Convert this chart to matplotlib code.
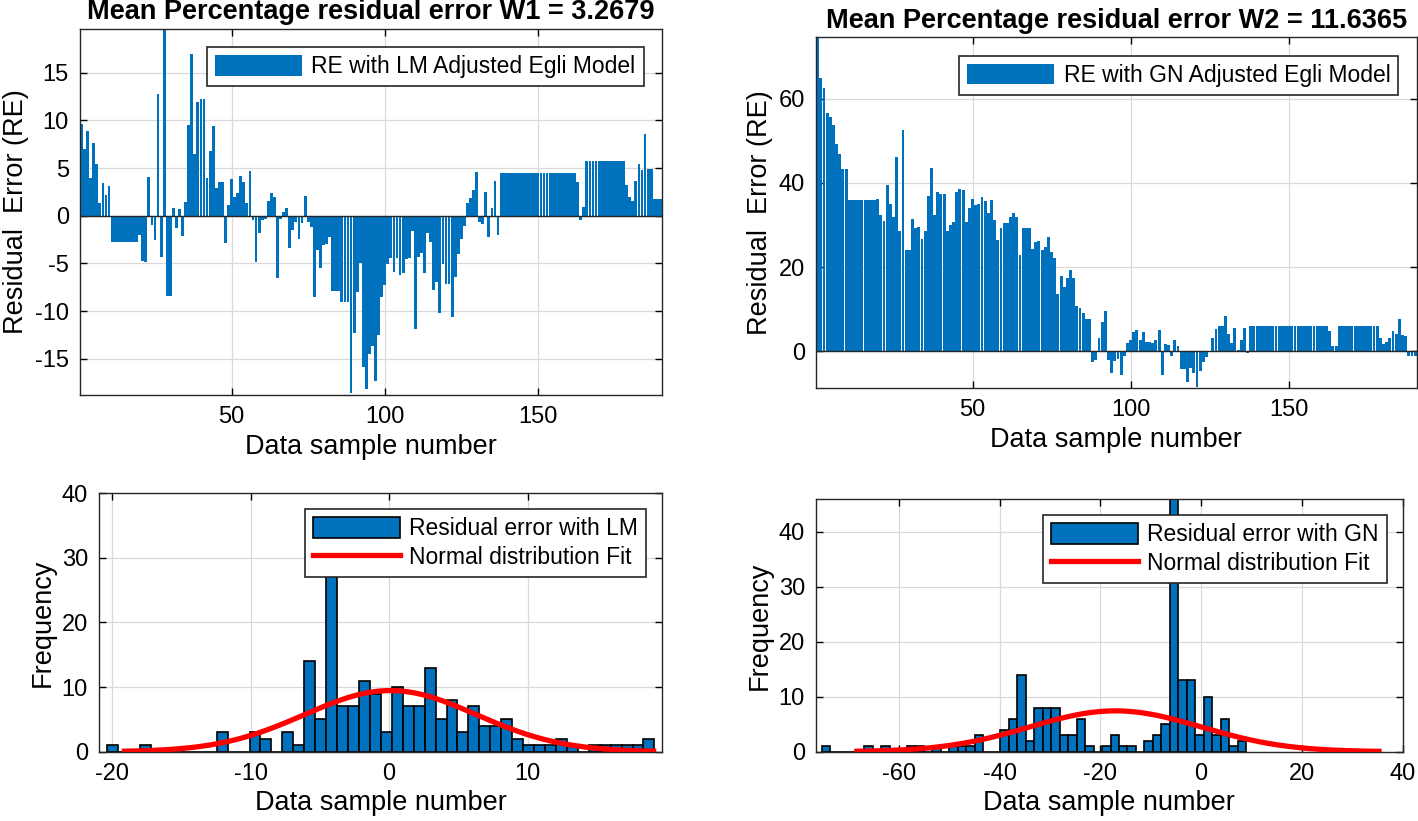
""" residual error plots for the adjusted Egli model (LM vs GN) """

import numpy as np
import matplotlib
matplotlib.use('Agg')
import matplotlib.pyplot as plt

plt.rcParams['font.family'] = ['Liberation Sans', 'DejaVu Sans']
plt.rcParams['axes.unicode_minus'] = False

# residual error per data sample, LM adjusted Egli model
re_lm = [
    9.6, 7.0, 8.9, 4.0, 7.6, 5.4, 1.3, 3.4, 2.2, 3.1,
    -2.7, -2.7, -2.7, -2.7, -2.7, -2.7, -2.7, -2.7, -2.7, -2.0,
    -4.7, -4.8, 4.1, -1.0, -2.5, 12.8, -4.3, 19.6, -8.4, -8.4,
    0.8, -1.3, 0.7, -2.1, 1.4, 9.5, 17.0, 6.5, 11.9, 12.3,
    12.3, 4.0, 6.8, 9.4, 2.9, 3.5, 3.5, -2.9, 1.1, 3.9,
    2.0, 2.4, 4.2, 3.5, 1.3, 4.7, -0.4, -4.8, -1.8, -0.4,
    -0.3, 1.5, 2.4, 2.0, -6.5, -0.3, 0.4, 0.8, -3.4, -1.5,
    -0.7, -2.4, -0.8, 2.1, -0.6, -1.2, -8.5, -3.6, -5.5, -3.1,
    -3.0, -2.2, -7.9, -7.9, -7.9, -9.0, -9.0, -9.0, -18.6, -12.3,
    -8.0, -5.0, -15.9, -18.2, -14.5, -13.7, -17.3, -12.5, -8.5, -7.3,
    -5.1, -4.4, -5.9, -4.4, -6.2, -6.0, -4.5, -4.4, -1.6, -11.9,
    -4.3, -3.9, -6.0, -1.8, -2.8, -7.8, -6.9, -10.2, -5.1, -7.2,
    -7.2, -10.6, -6.4, -4.0, -2.4, -1.1, 1.3, 1.9, 2.7, 4.6,
    -0.6, -0.9, 2.5, -2.2, 0.8, 3.7, -2.0, 4.5, 4.5, 4.5,
    4.5, 4.5, 4.5, 4.5, 4.5, 4.5, 4.5, 4.5, 4.5, 4.5,
    4.5, 4.5, 4.5, 4.5, 4.5, 4.5, 4.5, 4.5, 4.5, 4.5,
    4.5, 4.5, 3.5, -0.4, 0.9, 5.7, 5.7, 5.7, 5.7, 5.7,
    5.7, 5.7, 5.7, 5.7, 5.7, 5.7, 5.7, 5.7, 3.2, 2.0,
    1.5, 3.6, 5.4, 4.8, 8.6, 4.9, 4.9, 1.8, 1.8, 1.8,
]

# residual error per data sample, GN adjusted Egli model
re_gn = [
    74.6, 64.9, 62.5, 56.7, 55.7, 53.7, 49.2, 47.0, 43.2, 43.2,
    36.0, 36.0, 36.0, 36.0, 36.0, 36.0, 36.0, 36.0, 36.0, 36.3,
    32.5, 30.9, 39.6, 34.9, 32.0, 46.2, 28.5, 52.7, 24.1, 24.0,
    31.5, 29.3, 29.6, 26.8, 28.7, 36.8, 43.6, 32.3, 37.9, 37.4,
    37.4, 28.5, 30.1, 30.8, 37.9, 38.5, 38.3, 30.8, 34.1, 36.3,
    34.7, 34.9, 36.6, 35.8, 32.8, 36.0, 31.1, 26.5, 29.3, 30.6,
    30.6, 32.0, 32.8, 31.9, 23.0, 29.2, 29.2, 29.2, 24.3, 26.0,
    26.3, 24.0, 24.7, 27.1, 23.5, 22.2, 13.7, 17.8, 15.3, 17.5,
    19.4, 17.3, 10.8, 10.2, 9.1, 7.7, 7.7, -2.6, -2.0, 3.2,
    6.9, 9.6, -2.1, -5.1, -2.3, -1.8, -5.6, -1.0, 2.0, 2.8,
    4.7, 5.0, 2.8, 4.5, 2.3, 2.1, 2.0, 2.8, 5.1, -5.6,
    1.7, 1.5, -1.0, 2.8, 1.2, -4.2, -4.2, -7.4, -4.0, -5.1,
    -8.6, -4.8, -2.6, -1.3, -0.2, 3.1, 5.3, 5.9, 6.1, 8.3,
    4.0, 2.0, 5.5, 0.2, 2.8, 5.6, -0.4, 5.9, 5.9, 5.9,
    5.9, 5.9, 5.9, 5.9, 5.9, 5.9, 5.9, 5.9, 5.9, 5.9,
    5.9, 5.9, 5.9, 5.9, 5.9, 5.9, 5.9, 5.9, 5.9, 5.9,
    5.9, 5.9, 4.8, 1.2, 1.2, 5.9, 5.9, 5.9, 5.9, 5.9,
    5.9, 5.9, 5.9, 5.9, 5.9, 5.9, 5.9, 5.9, 3.2, 1.7,
    2.1, 3.1, 4.8, 4.2, 7.7, 3.9, 3.7, -1.0, -1.2, -1.2,
]

# histogram counts (50 bins each) and bin layout
hist_lm_counts = [
    1, 0, 0, 1, 0, 0, 0, 0, 0, 0,
    3, 0, 0, 3, 2, 0, 3, 1, 14, 5,
    28, 7, 7, 11, 9, 3, 10, 7, 7, 13,
    5, 8, 3, 7, 4, 4, 5, 2, 1, 1,
    1, 2, 1, 0, 1, 1, 1, 1, 1, 2,
]
hist_lm_start, hist_lm_width = -20.34, 0.79

hist_gn_counts = [
    1, 0, 0, 0, 0, 1, 0, 1, 0, 0,
    1, 1, 0, 1, 0, 1, 1, 1, 3, 0,
    0, 4, 6, 14, 2, 8, 8, 8, 3, 3,
    6, 1, 0, 1, 3, 1, 1, 0, 2, 3,
    5, 46, 13, 13, 3, 10, 3, 6, 1, 2,
]
hist_gn_start, hist_gn_width = -75.3, 1.686

# normal distribution fits (mean, std, plotted range)
fit_lm = (0.1, 6.2, -19.1, 19.1)
fit_gn = (-17.0, 17.0, -68.3, 35.3)

BLUE = '#0072BD'
TICK_FS = 17
LABEL_FS = 19.5
LEG_FS = 16.5
TITLE_FS = 19.5


def style_axes(ax):
    ''' MATLAB-like box, inward ticks and light grid '''
    ax.tick_params(direction='in', top=True, right=True, length=5, width=1,
                   labelsize=TICK_FS, pad=8)
    ax.grid(True, color='#d9d9d9', linewidth=0.9)
    ax.set_axisbelow(True)
    for sp in ax.spines.values():
        sp.set_color('#262626')
        sp.set_linewidth(1.0)


def make_legend(ax, handles, labels, **kw):
    leg = ax.legend(handles, labels, loc='upper right', fontsize=LEG_FS,
                    fancybox=False, framealpha=1, edgecolor='#262626',
                    handlelength=3.8, handleheight=1.0, handletextpad=0.4,
                    borderpad=0.35, labelspacing=0.25, **kw)
    leg.get_frame().set_linewidth(1.2)
    return leg


def plot_residuals(ax, values, title, label, ylim, yticks):
    idx = np.arange(1, len(values) + 1)
    bars = ax.bar(idx, values, width=0.92, color=BLUE, linewidth=0)
    ax.axhline(0, color='#262626', linewidth=1.0, zorder=3)
    ax.set_xlim(0.5, len(values) + 0.5)
    ax.set_ylim(*ylim)
    ax.set_xticks([50, 100, 150])
    ax.set_yticks(yticks)
    ax.set_title(title, fontsize=TITLE_FS, fontweight='bold', pad=7)
    ax.set_xlabel('Data sample number', fontsize=LABEL_FS)
    ax.set_ylabel('Residual  Error (RE)', fontsize=LABEL_FS)
    style_axes(ax)
    make_legend(ax, [bars], [label], borderaxespad=0.8)


def plot_histfit(ax, counts, start, width, fit, label, xlim, ylim, xticks):
    counts = np.asarray(counts)
    centers = start + width * (np.arange(len(counts)) + 0.5)
    bars = ax.bar(centers, counts, width=width, color=BLUE, edgecolor='black',
                  linewidth=1.2)
    mu, sigma, lo, hi = fit
    xs = np.linspace(lo, hi, 300)
    scale = counts.sum() * width
    pdf = np.exp(-0.5 * ((xs - mu) / sigma) ** 2) / (sigma * np.sqrt(2 * np.pi))
    line, = ax.plot(xs, scale * pdf, color='red', linewidth=3.8, zorder=4)
    ax.set_xlim(*xlim)
    ax.set_ylim(*ylim)
    ax.set_xticks(xticks)
    ax.set_yticks([0, 10, 20, 30, 40])
    ax.set_xlabel('Data sample number', fontsize=LABEL_FS)
    ax.set_ylabel('Frequency', fontsize=LABEL_FS)
    style_axes(ax)
    make_legend(ax, [bars, line], [label, 'Normal distribution Fit'],
                borderaxespad=0.7)


fig = plt.figure(figsize=(14.18, 8.21), dpi=100)

ax1 = fig.add_axes([0.0564, 0.5189, 0.4104, 0.4458])
plot_residuals(ax1, re_lm, 'Mean Percentage residual error W1 = 3.2679',
               'RE with LM Adjusted Egli Model', (-18.8, 19.6),
               [-15, -10, -5, 0, 5, 10, 15])

ax2 = fig.add_axes([0.5755, 0.527, 0.4236, 0.4275])
plot_residuals(ax2, re_gn, 'Mean Percentage residual error W2 = 11.6365',
               'RE with GN Adjusted Egli Model', (-8.8, 74.6),
               [0, 20, 40, 60])

ax3 = fig.add_axes([0.0698, 0.0844, 0.397, 0.3151])
plot_histfit(ax3, hist_lm_counts, hist_lm_start, hist_lm_width, fit_lm,
             'Residual error with LM', (-20.94, 19.7), (0, 40),
             [-20, -10, 0, 10])

ax4 = fig.add_axes([0.5755, 0.0844, 0.4137, 0.3078])
plot_histfit(ax4, hist_gn_counts, hist_gn_start, hist_gn_width, fit_gn,
             'Residual error with GN', (-76.4, 40), (0, 46),
             [-60, -40, -20, 0, 20, 40])

fig.savefig('out.png', dpi=100)
plt.close()
